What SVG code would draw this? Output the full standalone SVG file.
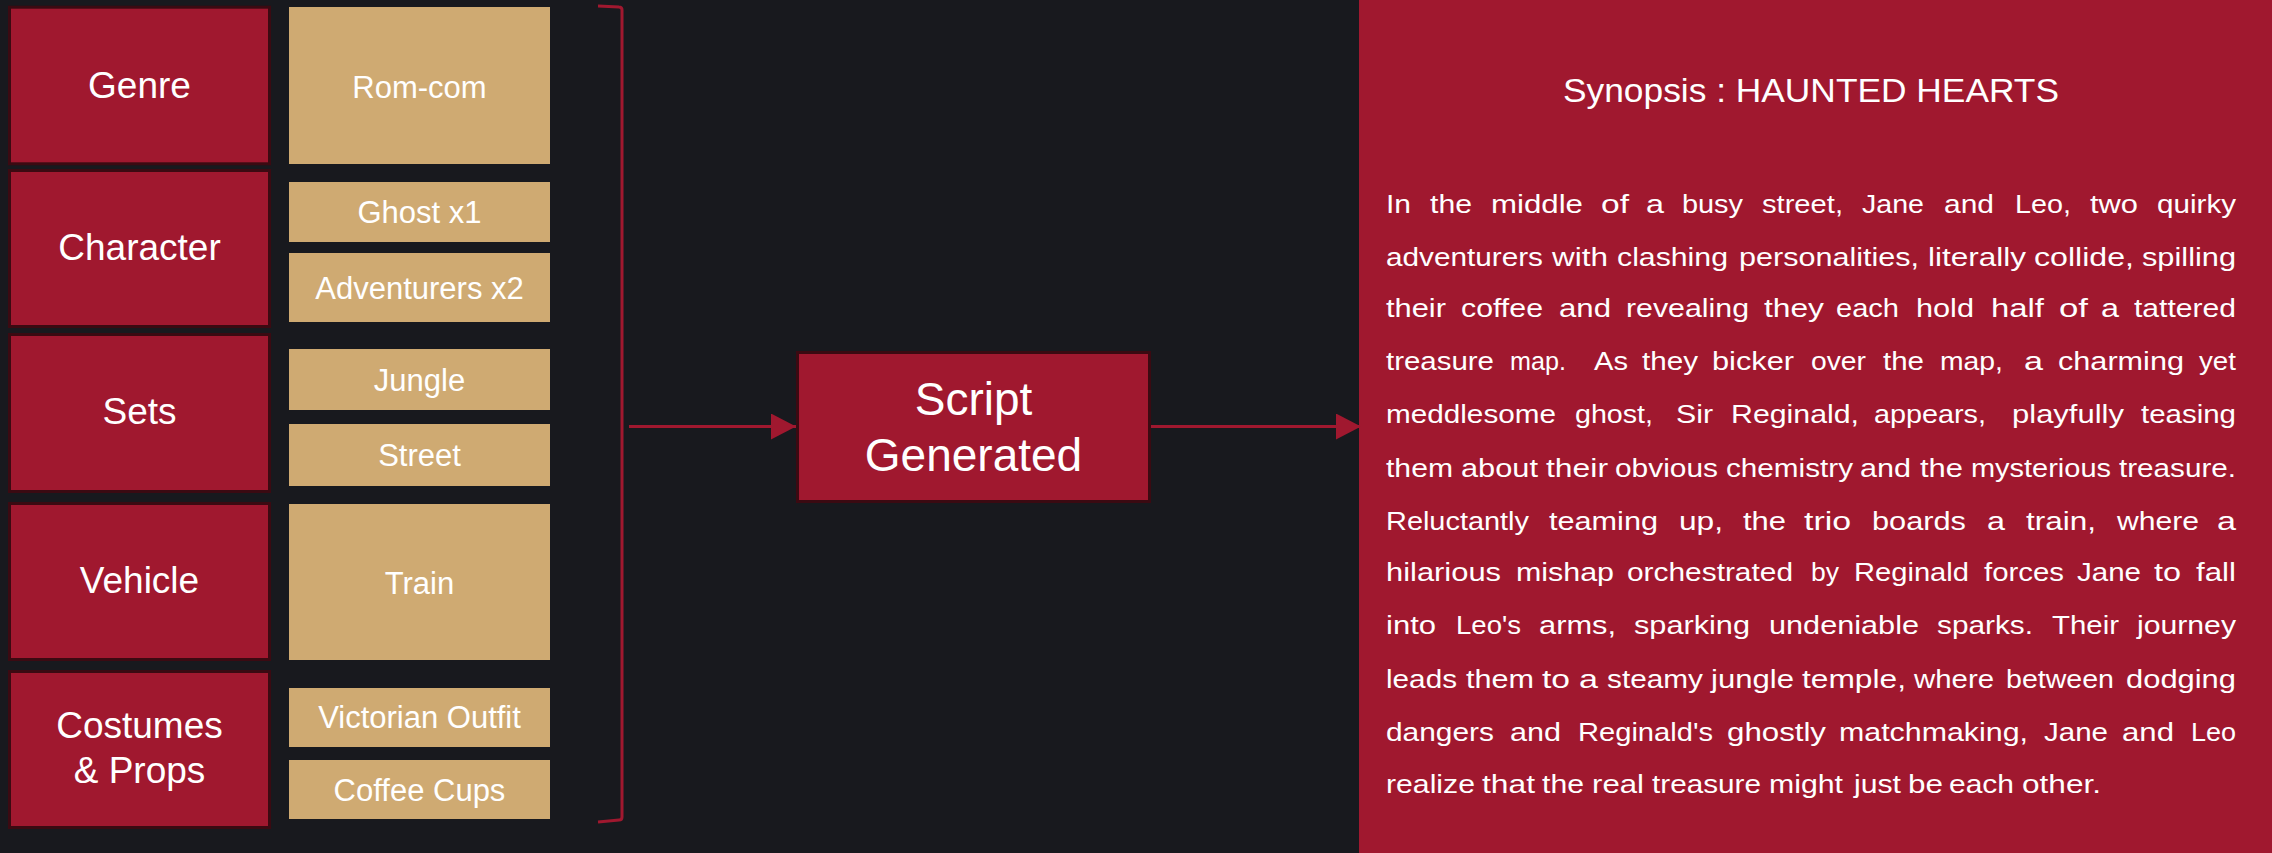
<svg xmlns="http://www.w3.org/2000/svg" width="2272" height="853" viewBox="0 0 2272 853">
<defs>
<style>
.cat{fill:#a0182f;stroke:#3b0a12;stroke-width:3}
.item{fill:#cfaa72}
.lbl{font-family:"Liberation Sans",Arial,sans-serif;fill:#ffffff;text-anchor:middle}
.cl{font-size:37px}
.il{font-size:31px}
.conn{stroke:#a0182f;stroke-width:3;fill:none}
.b text{font-family:"Liberation Sans",Arial,sans-serif;font-size:25px;fill:#ffffff}
</style>
<marker id="ah" markerUnits="userSpaceOnUse" markerWidth="26" markerHeight="26" refX="25" refY="13" orient="auto">
<path d="M0,0 L25,13 L0,26 Z" fill="#a0182f"/>
</marker>
</defs>
<rect x="0" y="0" width="2272" height="853" fill="#18191e"/>

<g id="genre"><rect class="cat" x="9.5" y="7.2" width="260" height="156.6"/><text class="lbl cl" x="139.5" y="98">Genre</text></g>
<g id="character"><rect class="cat" x="9.5" y="170.5" width="260" height="156"/><text class="lbl cl" x="139.5" y="260">Character</text></g>
<g id="sets"><rect class="cat" x="9.5" y="334.5" width="260" height="157"/><text class="lbl cl" x="139.5" y="424">Sets</text></g>
<g id="vehicle"><rect class="cat" x="9.5" y="503.5" width="260" height="156"/><text class="lbl cl" x="139.5" y="593">Vehicle</text></g>
<g id="costumes"><rect class="cat" x="9.5" y="671.5" width="260" height="156"/><text class="lbl cl" x="139.5" y="738">Costumes</text><text class="lbl cl" x="139.5" y="783">&amp; Props</text></g>

<g id="romcom"><rect class="item" x="289" y="7" width="261" height="157"/><text class="lbl il" x="419.5" y="98">Rom-com</text></g>
<g id="ghost"><rect class="item" x="289" y="182" width="261" height="60"/><text class="lbl il" x="419.5" y="223">Ghost x1</text></g>
<g id="adventurers"><rect class="item" x="289" y="253" width="261" height="69"/><text class="lbl il" x="419.5" y="299">Adventurers x2</text></g>
<g id="jungle"><rect class="item" x="289" y="349" width="261" height="61"/><text class="lbl il" x="419.5" y="391">Jungle</text></g>
<g id="street"><rect class="item" x="289" y="424" width="261" height="62"/><text class="lbl il" x="419.5" y="466">Street</text></g>
<g id="train"><rect class="item" x="289" y="504" width="261" height="156"/><text class="lbl il" x="419.5" y="594">Train</text></g>
<g id="victorian"><rect class="item" x="289" y="688" width="261" height="59"/><text class="lbl il" x="419.5" y="728">Victorian Outfit</text></g>
<g id="coffee"><rect class="item" x="289" y="760" width="261" height="59"/><text class="lbl il" x="419.5" y="801">Coffee Cups</text></g>

<g id="script"><rect class="cat" x="797.5" y="352.5" width="352" height="149"/><text class="lbl" font-size="46" x="973.5" y="415">Script</text><text class="lbl" font-size="46" x="973.5" y="471">Generated</text></g>

<g id="synopsis">
<rect x="1359" y="0" width="913" height="853" fill="#a0182f"/>
<text class="lbl" font-size="33" x="1811" y="102" textLength="496" lengthAdjust="spacingAndGlyphs">Synopsis : HAUNTED HEARTS</text>
<g class="b">
<text x="1386" y="213" textLength="25" lengthAdjust="spacingAndGlyphs">In</text>
<text x="1430" y="213" textLength="42" lengthAdjust="spacingAndGlyphs">the</text>
<text x="1491" y="213" textLength="92" lengthAdjust="spacingAndGlyphs">middle</text>
<text x="1601" y="213" textLength="28" lengthAdjust="spacingAndGlyphs">of</text>
<text x="1646" y="213" textLength="18" lengthAdjust="spacingAndGlyphs">a</text>
<text x="1682" y="213" textLength="61" lengthAdjust="spacingAndGlyphs">busy</text>
<text x="1762" y="213" textLength="81" lengthAdjust="spacingAndGlyphs">street,</text>
<text x="1862" y="213" textLength="62" lengthAdjust="spacingAndGlyphs">Jane</text>
<text x="1944" y="213" textLength="50" lengthAdjust="spacingAndGlyphs">and</text>
<text x="2015" y="213" textLength="56" lengthAdjust="spacingAndGlyphs">Leo,</text>
<text x="2090" y="213" textLength="48" lengthAdjust="spacingAndGlyphs">two</text>
<text x="2157" y="213" textLength="79" lengthAdjust="spacingAndGlyphs">quirky</text>

<text x="1386" y="266" textLength="157" lengthAdjust="spacingAndGlyphs">adventurers</text>
<text x="1552" y="266" textLength="56" lengthAdjust="spacingAndGlyphs">with</text>
<text x="1617" y="266" textLength="111" lengthAdjust="spacingAndGlyphs">clashing</text>
<text x="1739" y="266" textLength="180" lengthAdjust="spacingAndGlyphs">personalities,</text>
<text x="1928" y="266" textLength="98" lengthAdjust="spacingAndGlyphs">literally</text>
<text x="2034" y="266" textLength="100" lengthAdjust="spacingAndGlyphs">collide,</text>
<text x="2142" y="266" textLength="94" lengthAdjust="spacingAndGlyphs">spilling</text>

<text x="1386" y="317" textLength="60" lengthAdjust="spacingAndGlyphs">their</text>
<text x="1461" y="317" textLength="82" lengthAdjust="spacingAndGlyphs">coffee</text>
<text x="1559" y="317" textLength="52" lengthAdjust="spacingAndGlyphs">and</text>
<text x="1626" y="317" textLength="123" lengthAdjust="spacingAndGlyphs">revealing</text>
<text x="1764" y="317" textLength="60" lengthAdjust="spacingAndGlyphs">they</text>
<text x="1836" y="317" textLength="63" lengthAdjust="spacingAndGlyphs">each</text>
<text x="1916" y="317" textLength="58" lengthAdjust="spacingAndGlyphs">hold</text>
<text x="1991" y="317" textLength="53" lengthAdjust="spacingAndGlyphs">half</text>
<text x="2059" y="317" textLength="29" lengthAdjust="spacingAndGlyphs">of</text>
<text x="2101" y="317" textLength="18" lengthAdjust="spacingAndGlyphs">a</text>
<text x="2134" y="317" textLength="102" lengthAdjust="spacingAndGlyphs">tattered</text>

<text x="1386" y="370" textLength="108" lengthAdjust="spacingAndGlyphs">treasure</text>
<text x="1510" y="370" textLength="56" lengthAdjust="spacingAndGlyphs">map.</text>
<text x="1594" y="370" textLength="34" lengthAdjust="spacingAndGlyphs">As</text>
<text x="1642" y="370" textLength="56" lengthAdjust="spacingAndGlyphs">they</text>
<text x="1712" y="370" textLength="82" lengthAdjust="spacingAndGlyphs">bicker</text>
<text x="1811" y="370" textLength="55" lengthAdjust="spacingAndGlyphs">over</text>
<text x="1883" y="370" textLength="41" lengthAdjust="spacingAndGlyphs">the</text>
<text x="1940" y="370" textLength="63" lengthAdjust="spacingAndGlyphs">map,</text>
<text x="2024" y="370" textLength="19" lengthAdjust="spacingAndGlyphs">a</text>
<text x="2058" y="370" textLength="126" lengthAdjust="spacingAndGlyphs">charming</text>
<text x="2199" y="370" textLength="37" lengthAdjust="spacingAndGlyphs">yet</text>

<text x="1386" y="423" textLength="170" lengthAdjust="spacingAndGlyphs">meddlesome</text>
<text x="1575" y="423" textLength="78" lengthAdjust="spacingAndGlyphs">ghost,</text>
<text x="1676" y="423" textLength="37" lengthAdjust="spacingAndGlyphs">Sir</text>
<text x="1731" y="423" textLength="128" lengthAdjust="spacingAndGlyphs">Reginald,</text>
<text x="1874" y="423" textLength="112" lengthAdjust="spacingAndGlyphs">appears,</text>
<text x="2012" y="423" textLength="112" lengthAdjust="spacingAndGlyphs">playfully</text>
<text x="2141" y="423" textLength="95" lengthAdjust="spacingAndGlyphs">teasing</text>

<text x="1386" y="477" textLength="67" lengthAdjust="spacingAndGlyphs">them</text>
<text x="1461" y="477" textLength="77" lengthAdjust="spacingAndGlyphs">about</text>
<text x="1546" y="477" textLength="62" lengthAdjust="spacingAndGlyphs">their</text>
<text x="1615" y="477" textLength="103" lengthAdjust="spacingAndGlyphs">obvious</text>
<text x="1726" y="477" textLength="127" lengthAdjust="spacingAndGlyphs">chemistry</text>
<text x="1860" y="477" textLength="51" lengthAdjust="spacingAndGlyphs">and</text>
<text x="1920" y="477" textLength="43" lengthAdjust="spacingAndGlyphs">the</text>
<text x="1971" y="477" textLength="140" lengthAdjust="spacingAndGlyphs">mysterious</text>
<text x="2119" y="477" textLength="117" lengthAdjust="spacingAndGlyphs">treasure.</text>

<text x="1386" y="530" textLength="143" lengthAdjust="spacingAndGlyphs">Reluctantly</text>
<text x="1549" y="530" textLength="109" lengthAdjust="spacingAndGlyphs">teaming</text>
<text x="1679" y="530" textLength="44" lengthAdjust="spacingAndGlyphs">up,</text>
<text x="1743" y="530" textLength="43" lengthAdjust="spacingAndGlyphs">the</text>
<text x="1804" y="530" textLength="47" lengthAdjust="spacingAndGlyphs">trio</text>
<text x="1872" y="530" textLength="94" lengthAdjust="spacingAndGlyphs">boards</text>
<text x="1987" y="530" textLength="18" lengthAdjust="spacingAndGlyphs">a</text>
<text x="2026" y="530" textLength="70" lengthAdjust="spacingAndGlyphs">train,</text>
<text x="2117" y="530" textLength="82" lengthAdjust="spacingAndGlyphs">where</text>
<text x="2217" y="530" textLength="19" lengthAdjust="spacingAndGlyphs">a</text>

<text x="1386" y="581" textLength="115" lengthAdjust="spacingAndGlyphs">hilarious</text>
<text x="1516" y="581" textLength="98" lengthAdjust="spacingAndGlyphs">mishap</text>
<text x="1627" y="581" textLength="166" lengthAdjust="spacingAndGlyphs">orchestrated</text>
<text x="1811" y="581" textLength="28" lengthAdjust="spacingAndGlyphs">by</text>
<text x="1854" y="581" textLength="115" lengthAdjust="spacingAndGlyphs">Reginald</text>
<text x="1984" y="581" textLength="80" lengthAdjust="spacingAndGlyphs">forces</text>
<text x="2077" y="581" textLength="64" lengthAdjust="spacingAndGlyphs">Jane</text>
<text x="2154" y="581" textLength="27" lengthAdjust="spacingAndGlyphs">to</text>
<text x="2196" y="581" textLength="40" lengthAdjust="spacingAndGlyphs">fall</text>

<text x="1386" y="634" textLength="50" lengthAdjust="spacingAndGlyphs">into</text>
<text x="1456" y="634" textLength="65" lengthAdjust="spacingAndGlyphs">Leo's</text>
<text x="1539" y="634" textLength="77" lengthAdjust="spacingAndGlyphs">arms,</text>
<text x="1634" y="634" textLength="116" lengthAdjust="spacingAndGlyphs">sparking</text>
<text x="1769" y="634" textLength="150" lengthAdjust="spacingAndGlyphs">undeniable</text>
<text x="1937" y="634" textLength="96" lengthAdjust="spacingAndGlyphs">sparks.</text>
<text x="2052" y="634" textLength="67" lengthAdjust="spacingAndGlyphs">Their</text>
<text x="2137" y="634" textLength="99" lengthAdjust="spacingAndGlyphs">journey</text>

<text x="1386" y="688" textLength="71" lengthAdjust="spacingAndGlyphs">leads</text>
<text x="1466" y="688" textLength="68" lengthAdjust="spacingAndGlyphs">them</text>
<text x="1542" y="688" textLength="28" lengthAdjust="spacingAndGlyphs">to</text>
<text x="1579" y="688" textLength="19" lengthAdjust="spacingAndGlyphs">a</text>
<text x="1607" y="688" textLength="96" lengthAdjust="spacingAndGlyphs">steamy</text>
<text x="1711" y="688" textLength="83" lengthAdjust="spacingAndGlyphs">jungle</text>
<text x="1802" y="688" textLength="104" lengthAdjust="spacingAndGlyphs">temple,</text>
<text x="1914" y="688" textLength="80" lengthAdjust="spacingAndGlyphs">where</text>
<text x="2006" y="688" textLength="108" lengthAdjust="spacingAndGlyphs">between</text>
<text x="2126" y="688" textLength="110" lengthAdjust="spacingAndGlyphs">dodging</text>

<text x="1386" y="741" textLength="108" lengthAdjust="spacingAndGlyphs">dangers</text>
<text x="1510" y="741" textLength="51" lengthAdjust="spacingAndGlyphs">and</text>
<text x="1578" y="741" textLength="135" lengthAdjust="spacingAndGlyphs">Reginald's</text>
<text x="1727" y="741" textLength="99" lengthAdjust="spacingAndGlyphs">ghostly</text>
<text x="1839" y="741" textLength="189" lengthAdjust="spacingAndGlyphs">matchmaking,</text>
<text x="2044" y="741" textLength="64" lengthAdjust="spacingAndGlyphs">Jane</text>
<text x="2122" y="741" textLength="52" lengthAdjust="spacingAndGlyphs">and</text>
<text x="2191" y="741" textLength="45" lengthAdjust="spacingAndGlyphs">Leo</text>

<text x="1386" y="793" textLength="89" lengthAdjust="spacingAndGlyphs">realize</text>
<text x="1482" y="793" textLength="53" lengthAdjust="spacingAndGlyphs">that</text>
<text x="1542" y="793" textLength="42" lengthAdjust="spacingAndGlyphs">the</text>
<text x="1592" y="793" textLength="52" lengthAdjust="spacingAndGlyphs">real</text>
<text x="1652" y="793" textLength="109" lengthAdjust="spacingAndGlyphs">treasure</text>
<text x="1769" y="793" textLength="74" lengthAdjust="spacingAndGlyphs">might</text>
<text x="1854" y="793" textLength="47" lengthAdjust="spacingAndGlyphs">just</text>
<text x="1908" y="793" textLength="35" lengthAdjust="spacingAndGlyphs">be</text>
<text x="1949" y="793" textLength="65" lengthAdjust="spacingAndGlyphs">each</text>
<text x="2022" y="793" textLength="79" lengthAdjust="spacingAndGlyphs">other.</text>
</g>
</g>

<g id="connectors">
<path class="conn" d="M598,6 L619,7 Q622,7 622,10 L622,817 Q622,820 619,820 L598,822"/>
<line class="conn" x1="629" y1="426.5" x2="796" y2="426.5" marker-end="url(#ah)"/>
<line class="conn" x1="1151" y1="426.5" x2="1361" y2="426.5" marker-end="url(#ah)"/>
</g>
</svg>
